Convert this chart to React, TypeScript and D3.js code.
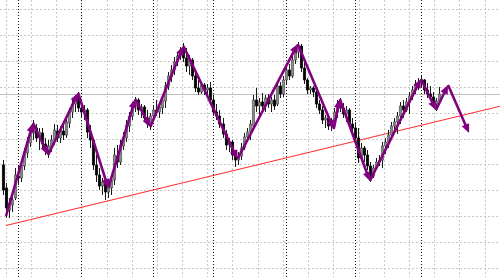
import React from 'react';
import * as d3 from 'd3';

// Candle data (price points, higher = higher price)
const openPts = [112,89,67,72,79,101,99,111,124,134, 144,149,139,144,133,127,130,137,146,139,
  146,142,154,165,173,179,169,165,167,145, 137,112,102,91,94,85,89,97,121,115,
  131,139,151,161,171,177,167,170,159,153, 161,167,165,169,176,191,200,207,215,221,
  227,219,211,217,201,189,185,192,187,189, 177,165,161,153,143,132,135,122,117,121,
  129,140,145,151,177,171,175,171,179,173, 177,173,191,183,197,207,201,217,225,231,
  209,197,187,189,185,173,167,157,159,151, 155,165,173,169,163,167,153,149,139,119,
  129,122,111,101,109,115,117,131,135,142, 151,155,161,171,167,175,181,187,193,195,
  197,187,183,180,173,176];
const highPts = [117,94,79,82,109,112,117,129,140,149, 157,153,149,149,139,137,142,153,152,151,
  155,159,169,177,182,185,175,172,169,152, 139,122,109,99,99,95,102,129,132,137,
  145,157,165,175,180,179,173,172,167,164, 172,177,173,181,195,205,212,220,225,230,
  234,229,222,219,207,197,195,194,193,195, 182,173,167,159,147,139,137,127,125,134,
  144,149,157,182,189,179,184,182,183,180, 182,195,195,201,210,213,221,230,235,233,
  217,199,191,191,187,177,171,162,161,159, 169,177,179,174,171,169,159,155,149,134,
  131,127,115,112,119,122,135,139,147,155, 159,165,175,177,179,185,191,197,199,201,
  198,194,191,185,179,190];
const lowPts = [82,59,59,65,77,92,95,107,119,130, 137,135,127,129,122,119,125,132,135,134,
  137,139,149,159,165,165,159,157,139,129, 107,95,87,82,77,79,82,92,109,112,
  127,135,145,157,165,162,159,155,149,147, 157,161,159,163,169,187,195,202,211,217,
  215,205,202,197,185,182,183,182,181,172, 161,157,149,139,127,125,117,110,112,117,
  127,135,137,147,165,162,167,165,169,165, 167,171,179,180,193,197,199,213,219,205,
  193,183,183,180,169,163,153,149,147,146, 149,159,165,159,155,149,143,135,114,117,
  115,107,95,99,107,111,109,123,129,139, 145,143,153,159,165,163,177,183,187,189,
  183,179,177,169,166,173];
const closePts = [87,69,74,77,102,99,112,125,135,145, 149,139,145,133,127,131,137,147,139,147,
  142,155,165,173,179,169,165,167,145,137, 112,102,91,95,85,89,97,122,115,132,
  139,152,161,171,177,167,170,159,153,161, 167,165,170,177,191,201,207,215,221,227,
  219,211,217,201,189,185,192,187,189,177, 165,161,153,143,132,135,122,117,121,129,
  140,145,153,177,171,175,171,179,173,177, 171,191,183,197,207,201,217,225,231,209,
  197,187,189,185,173,167,157,159,151,155, 165,173,169,163,167,153,149,139,119,129,
  122,111,101,109,115,117,131,135,142,151, 155,161,171,167,175,181,187,193,195,197,
  187,183,180,173,176,183];

// ZigZag turning points (bar index, price)
const zigzagBars = [1,10,15,25,35,44,49,60,78,98,110,112,122,139,144,148,155];
const zigzagPts = [61,154,122,184,89,178,150,231,118,233,148,178,96,198,167,192,144];

// Period separators (bar index)
const separatorBars = [5,26,50,70,94,117,139];

// Trend line anchors
const trendBars = [1,145];
const trendPts = [51.5,156];

export default function App() {
  const W = 500, H = 277;
  const n = openPts.length;
  const x = d3.scaleLinear().domain([0, n - 1]).range([3, 439]);
  const y = d3.scaleLinear().domain([0, 277]).range([H, 0]);

  const hGrid = d3.range(9, H, 25.9);
  const vGrid = d3.range(5.7, W, 25.2);

  const bid = closePts[n - 1];

  const tx0 = x(trendBars[0]), ty0 = y(trendPts[0]);
  const tx1 = x(trendBars[1]), ty1 = y(trendPts[1]);
  const tyEnd = ty0 + (ty1 - ty0) * (W - tx0) / (tx1 - tx0);

  const purple = '#800080';
  const segs: any[] = [];
  for (let k = 1; k < zigzagBars.length; k++) {
    const x0 = x(zigzagBars[k - 1]), y0 = y(zigzagPts[k - 1]);
    const x1 = x(zigzagBars[k]), y1 = y(zigzagPts[k]);
    const dx = x1 - x0, dy = y1 - y0;
    const len = Math.hypot(dx, dy);
    const ux = dx / len, uy = dy / len;
    const px = -uy, py = ux;
    const L = 9, hw = 4;
    const bx = x1 - ux * L, by = y1 - uy * L;
    segs.push(
      <g key={k}>
        <line x1={x0} y1={y0} x2={bx + ux} y2={by + uy} stroke={purple} strokeWidth={2.6} />
        <polygon
          points={`${x1},${y1} ${bx + px * hw},${by + py * hw} ${bx - px * hw},${by - py * hw}`}
          fill={purple}
        />
      </g>
    );
  }

  return (
    <svg width={W} height={H} style={{ position: 'absolute', left: 0, top: 0, background: '#fff' }}>
      <rect x={0} y={0} width={W} height={H} fill="#fff" />
      {hGrid.map((g, i) => (
        <line key={'h' + i} x1={0} x2={W} y1={Math.round(g) + 0.5} y2={Math.round(g) + 0.5}
          stroke="#c8c8c8" strokeWidth={1} strokeDasharray="2,2" />
      ))}
      {vGrid.map((g, i) => (
        <line key={'v' + i} x1={Math.round(g) + 0.5} x2={Math.round(g) + 0.5} y1={0} y2={H}
          stroke="#c8c8c8" strokeWidth={1} strokeDasharray="2,2" />
      ))}
      {separatorBars.map((b, i) => (
        <line key={'s' + i} x1={Math.round(x(b)) + 0.5} x2={Math.round(x(b)) + 0.5} y1={0} y2={H}
          stroke="#111" strokeWidth={1} strokeDasharray="1,2" />
      ))}
      <line x1={0} x2={W} y1={Math.round(y(bid)) + 0.5} y2={Math.round(y(bid)) + 0.5} stroke="#c0c0c0" strokeWidth={1} />
      <line x1={tx0} y1={ty0} x2={W} y2={tyEnd} stroke="#ff3030" strokeWidth={1.1} />
      {openPts.map((o, i) => {
        const c = closePts[i];
        const cx = Math.round(x(i)) + 0.5;
        const bull = c >= o;
        const top = y(Math.max(o, c)), bot = y(Math.min(o, c));
        return (
          <g key={'c' + i}>
            <line x1={cx} x2={cx} y1={y(highPts[i])} y2={y(lowPts[i])} stroke="#1a1a1a" strokeWidth={1} />
            <rect x={cx - 1.3} y={top} width={2.6} height={Math.max(1, bot - top)}
              fill={bull ? '#8a8a8a' : '#000'} stroke={bull ? '#444' : '#000'} strokeWidth={0.5} />
          </g>
        );
      })}
      {segs}
    </svg>
  );
}
